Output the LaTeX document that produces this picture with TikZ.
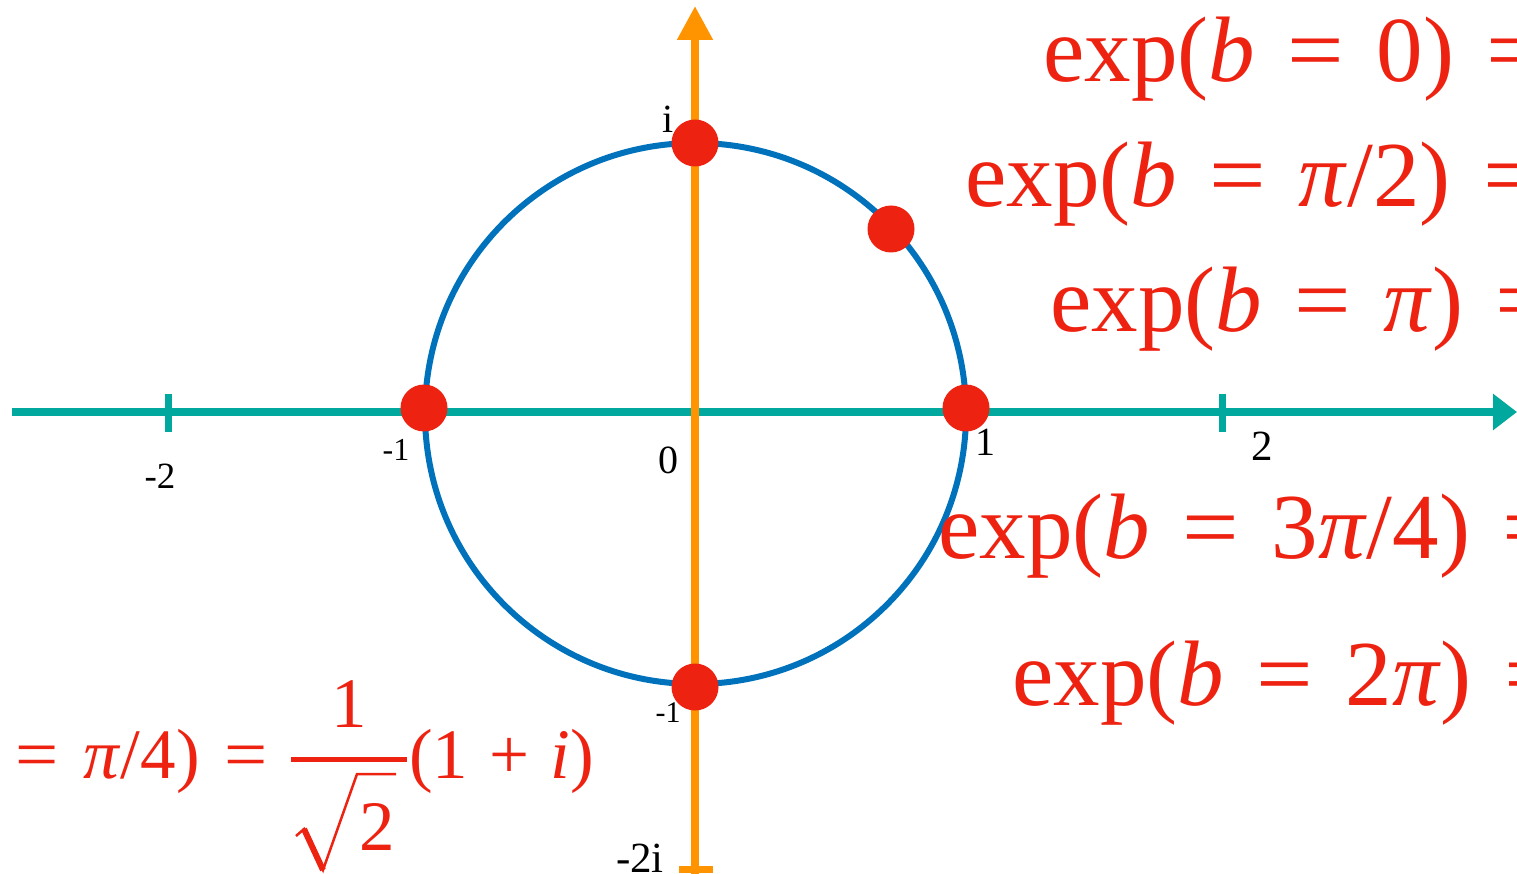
\documentclass[tikz,border=0pt]{standalone}
\usepackage{fontspec}
\setmainfont{Liberation Serif}
\usetikzlibrary{arrows.meta}
\definecolor{axisteal}{RGB}{0,168,157}
\definecolor{axisorange}{RGB}{255,148,0}
\definecolor{circblue}{RGB}{0,114,188}
\definecolor{dotred}{RGB}{238,34,17}
\newcommand{\myeq}{\scalebox{1.08}[1]{=}}
\newcommand{\eqs}{\hspace{0.35em}\myeq\hspace{0.35em}}
\begin{document}
\begin{tikzpicture}[x=1pt,y=-1pt,
  haxis/.style={draw=axisteal,line width=8pt},
  vaxis/.style={draw=axisorange,line width=8pt},
  htick/.style={draw=axisteal,line width=7pt},
  vtick/.style={draw=axisorange,line width=7pt},
  unitcirc/.style={draw=circblue,line width=6pt},
  dot/.style={circle,fill=dotred,minimum size=47pt,inner sep=0pt},
  lab/.style={text=black,inner sep=0pt,anchor=base,font=\fontsize{40}{44}\selectfont},
  smalllab/.style={text=black,inner sep=0pt,anchor=base,font=\fontsize{32}{36}\selectfont},
  eqn/.style={text=dotred,inner sep=0pt,anchor=base west,font=\fontsize{93}{100}\selectfont},
  eqnsmall/.style={text=dotred,inner sep=0pt,font=\fontsize{71}{80}\selectfont},
  fracline/.style={draw=dotred,line width=5pt},
  radthin/.style={draw=dotred,line width=2.5pt,line join=miter},
  radthick/.style={draw=dotred,line width=6pt}]
\useasboundingbox (0,0) rectangle (1517,874);
\clip (0,0) rectangle (1517,874);
% circle
\coordinate (o) at (695.5,413.5);
\draw[unitcirc] (o) circle[radius=270.5];
% horizontal axis
\coordinate (hstart) at (12,412);
\coordinate (hend) at (1517,412);
\draw[haxis,-{Triangle[length=24pt,width=35pt]}] (hstart) -- (hend);
\coordinate (tma) at (168,394); \coordinate (tmb) at (168,432);
\coordinate (tpa) at (1222,394); \coordinate (tpb) at (1222,432);
\draw[htick] (tma) -- (tmb);
\draw[htick] (tpa) -- (tpb);
% vertical axis
\coordinate (vbot) at (695,880);
\coordinate (vtop) at (695,6);
\draw[vaxis,-{Triangle[length=34pt,width=34pt]}] (vbot) -- (vtop);
\coordinate (vta) at (679,869); \coordinate (vtb) at (713,869);
\draw[vtick] (vta) -- (vtb);
% dots
\node[dot] (d1) at (695,143) {};
\node[dot] (d2) at (891,229) {};
\node[dot] (d3) at (424,408) {};
\node[dot] (d4) at (966,408) {};
\node[dot] (d5) at (695,687) {};
% labels
\node[lab] (li) at (668,133) {i};
\node[lab,font=\fontsize{37}{40}\selectfont] (lm2) at (160,488) {-2};
\node[smalllab] (lm1) at (396,460) {-1};
\node[lab] (l0) at (668,473) {0};
\node[lab] (l1) at (985,455) {1};
\node[lab,font=\fontsize{43}{46}\selectfont] (l2) at (1262,460) {2};
\node[smalllab,font=\fontsize{30}{34}\selectfont] (lmi) at (668,722) {-1};
\node[lab,font=\fontsize{43}{46}\selectfont] (lm2i) at (640,872) {-2i};
% equations
\node[eqn] (e1) at (1043,82) {exp(\textit{b}\eqs 0)\eqs};
\node[eqn] (e2) at (965,207) {exp(\textit{b}\eqs \textit{π}/2)\eqs};
\node[eqn] (e3) at (1050,332) {exp(\textit{b}\eqs \textit{π})\eqs};
\node[eqn] (e4) at (938,558) {exp(\textit{b}\eqs 3\textit{π}/4)\eqs};
\node[eqn] (e5) at (1012,705) {exp(\textit{b}\eqs 2\textit{π})\eqs};
% bottom-left formula
\node[eqnsmall,anchor=base east] (e6) at (268,778) {exp(\textit{b}\eqs \textit{π}/4)\hspace{0.35em}\myeq};
\node[eqnsmall,anchor=base] (num) at (349,727) {1};
\coordinate (fa) at (291,759.5); \coordinate (fb) at (407,759.5);
\draw[fracline] (fa) -- (fb);
\coordinate (ra) at (296,836); \coordinate (rb) at (304,829);
\coordinate (rc) at (323,870); \coordinate (rd) at (357,774);
\coordinate (re) at (396,774);
\draw[radthin] (ra) -- (rb) -- (rc) -- (rd) -- (re);
\draw[radthick] (rb) -- (rc);
\node[eqnsmall,anchor=base] (den) at (377,850) {2};
\node[eqnsmall,anchor=base west] (e7) at (409,778) {(1\hspace{0.3em}+\hspace{0.3em}\textit{i})};
\end{tikzpicture}
\end{document}
